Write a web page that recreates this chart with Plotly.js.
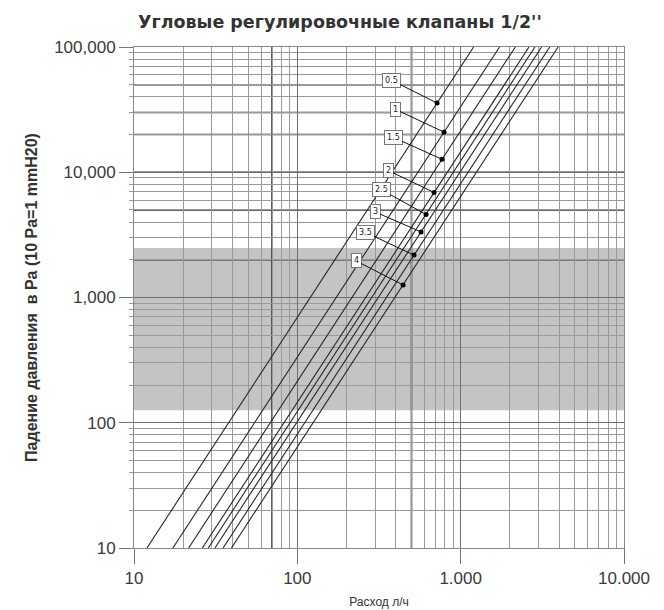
<!DOCTYPE html>
<html>
<head>
<meta charset="utf-8">
<script src="https://cdn.plot.ly/plotly-3.0.1.min.js"></script>
<style>html,body{margin:0;padding:0;background:#fff;}#chart{width:664px;height:610px;}</style>
</head>
<body>
<div id="chart"></div>
<script>
// ---- data ----
var turnLabels = ["0.5", "1", "1.5", "2", "2.5", "3", "3.5", "4"];
var dpLow = 10;          // Pa, bottom end of each characteristic
var dpHigh = 100000;     // Pa, top end of each characteristic
var flowAtLow = [12.0, 17.3, 21.6, 26.2, 28.5, 31.3, 35.1, 39.5];        // l/h at 10 Pa
var flowAtHigh = [1200, 1730, 2160, 2620, 2850, 3130, 3510, 3950];       // l/h at 100 000 Pa
var dotFlow = [717, 791, 769, 687, 614, 572, 518, 444];                  // l/h of marked points
var dotDp = [35700, 20900, 12700, 6900, 4600, 3340, 2180, 1260];         // Pa of marked points
var bandLow = 126, bandHigh = 2480;                                      // shaded recommended range, Pa
var xTickVals = [10, 100, 1000, 10000];
var xTickText = ["10", "100", "1.000", "10.000"];
var yTickVals = [10, 100, 1000, 10000, 100000];
var yTickText = ["10", "100", "1,000", "10,000", "100,000"];
var darkH = [2000, 5000, 10000, 20000, 30000, 50000];
var darkV = [70, 500];

// label offsets (pixels, label relative to point)
var labelOffsets = [[-46,-23],[-49,-23],[-49,-22],[-46,-22],[-45,-25],[-46,-20],[-49,-23],[-47,-24]];

function minorVals(lo, hi) {
  var out = [];
  for (var d = lo; d < hi; d *= 10) {
    for (var k = 2; k <= 9; k++) out.push(k * d);
  }
  return out;
}

var traces = [];
for (var i = 0; i < turnLabels.length; i++) {
  traces.push({
    type: 'scatter', mode: 'lines',
    x: [flowAtLow[i], flowAtHigh[i]], y: [dpLow, dpHigh],
    line: {color: '#262626', width: 1.1},
    hoverinfo: 'skip', showlegend: false
  });
}
traces.push({
  type: 'scatter', mode: 'markers', x: dotFlow, y: dotDp,
  marker: {color: '#000', size: 5}, showlegend: false, hoverinfo: 'skip'
});

var shapes = [{
  type: 'rect', xref: 'paper', yref: 'y', x0: 0, x1: 1, y0: bandLow, y1: bandHigh,
  fillcolor: '#c4c4c4', line: {width: 0}, layer: 'below'
}];
darkH.forEach(function (v) {
  shapes.push({type: 'line', xref: 'paper', yref: 'y', x0: 0, x1: 1, y0: v, y1: v,
    line: {color: '#333333', width: 1.6}, layer: 'between'});
});
darkV.forEach(function (v) {
  shapes.push({type: 'line', xref: 'x', yref: 'paper', x0: v, x1: v, y0: 0, y1: 1,
    line: {color: '#333333', width: 1.6}, layer: 'between'});
});

var annotations = turnLabels.map(function (t, i) {
  return {
    x: Math.log10(dotFlow[i]), y: Math.log10(dotDp[i]), xref: 'x', yref: 'y',
    text: t, showarrow: true, arrowhead: 0, arrowwidth: 1, arrowcolor: '#111',
    ax: labelOffsets[i][0], ay: labelOffsets[i][1],
    bgcolor: '#ffffff', bordercolor: '#777', borderwidth: 1, borderpad: 2,
    font: {family: 'DejaVu Sans, sans-serif', size: 8, color: '#222'}
  };
});
annotations.push({
  xref: 'paper', yref: 'paper', x: (340 - 134) / 490, y: 1 + (47 - 22) / 501,
  xanchor: 'center', yanchor: 'middle', showarrow: false,
  text: "Угловые регулировочные клапаны 1/2''",
  font: {family: 'DejaVu Sans, sans-serif', size: 17.5, color: '#333', weight: 'bold'}
});

var tickFont = {family: 'Liberation Sans, Arial, sans-serif', size: 17, color: '#3a3a3a'};

var layout = {
  width: 664, height: 610,
  margin: {l: 134, r: 40, t: 47, b: 62},
  paper_bgcolor: '#ffffff', plot_bgcolor: '#ffffff',
  xaxis: {
    type: 'log', range: [1, 4],
    tickvals: xTickVals, ticktext: xTickText, tickfont: tickFont,
    ticks: 'outside', ticklen: 15, tickcolor: '#777',
    showgrid: true, gridcolor: '#6e6e6e', gridwidth: 1,
    minor: {tickvals: minorVals(10, 10000), showgrid: true, gridcolor: '#9a9a9a', gridwidth: 1, ticks: ''},
    showline: true, linecolor: '#888', linewidth: 1, mirror: true, zeroline: false,
    title: {text: 'Расход л/ч', font: {family: 'Liberation Sans, Arial, sans-serif', size: 12, color: '#333'}, standoff: 10}
  },
  yaxis: {
    type: 'log', range: [1, 5],
    tickvals: yTickVals, ticktext: yTickText, tickfont: tickFont,
    ticks: 'outside', ticklen: 14, tickcolor: '#777',
    showgrid: true, gridcolor: '#6e6e6e', gridwidth: 1,
    minor: {tickvals: minorVals(10, 100000), showgrid: true, gridcolor: '#9a9a9a', gridwidth: 1, ticks: 'outside', ticklen: 4, tickcolor: '#999'},
    showline: true, linecolor: '#888', linewidth: 1, mirror: true, zeroline: false,
    title: {text: 'Падение давления  в Pa (10 Pa=1 mmH20)', font: {family: 'Liberation Sans, Arial, sans-serif', size: 16, color: '#333', weight: 'bold'}, standoff: 12}
  },
  shapes: shapes,
  annotations: annotations,
  showlegend: false
};

Plotly.newPlot('chart', traces, layout, {displayModeBar: false, staticPlot: true});
</script>
</body>
</html>
